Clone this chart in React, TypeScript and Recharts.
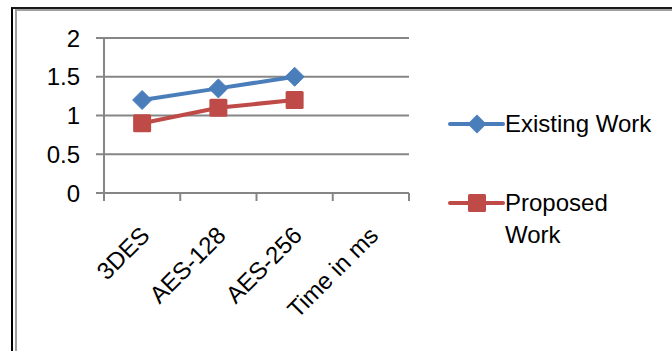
import { CartesianGrid, Legend, Line, LineChart, XAxis, YAxis } from "recharts";

const categories = ["3DES", "AES-128", "AES-256", "Time in ms"];
const existingWork = [1.2, 1.35, 1.5, null];
const proposedWork = [0.9, 1.1, 1.2, null];
const yTicks = [0, 0.5, 1, 1.5, 2];

const data = categories.map((name, i) => ({
  name,
  existing: existingWork[i],
  proposed: proposedWork[i],
}));

const colors = {
  existing: "#4A7EBB",
  proposed: "#BE4B48",
  axis: "#868686",
  text: "#000000",
};

const fontFamily = "'Liberation Sans', Arial, sans-serif";
const legendWidth = 220;

function DiamondDot(props: any) {
  const { cx, cy, fill, key } = props;
  if (cx == null || cy == null) return <g key={key} />;
  return (
    <polygon
      key={key}
      points={`${cx},${cy - 9.5} ${cx + 9.5},${cy} ${cx},${cy + 9.5} ${cx - 9.5},${cy}`}
      fill={fill}
      stroke={fill}
      strokeWidth={1}
      strokeLinejoin="round"
    />
  );
}

function SquareDot(props: any) {
  const { cx, cy, fill, key } = props;
  if (cx == null || cy == null) return <g key={key} />;
  return <rect key={key} x={cx - 9} y={cy - 9} width={18} height={18} rx={1.5} fill={fill} />;
}

// category label plus the tick marks on the category boundaries
function CategoryTick(props: any) {
  const { x, y, payload, index, width, visibleTicksCount } = props;
  const half = payload?.offset || width / visibleTicksCount / 2;
  const ax = x + 3;
  const ay = y + 38;
  const last = index === visibleTicksCount - 1;
  return (
    <g>
      <line x1={x - half} y1={y} x2={x - half} y2={y + 8} stroke={colors.axis} strokeWidth={2} />
      {last && <line x1={x + half} y1={y} x2={x + half} y2={y + 8} stroke={colors.axis} strokeWidth={2} />}
      <text
        x={ax}
        y={ay}
        dy="0.35em"
        textAnchor="end"
        transform={`rotate(-45 ${ax} ${ay})`}
        fill={colors.text}
        fontSize={24}
        fontFamily={fontFamily}
      >
        {payload.value}
      </text>
    </g>
  );
}

function LegendContent(props: any) {
  const { payload } = props;
  return (
    <div style={{ fontFamily, fontSize: 24, color: colors.text, lineHeight: "32px" }}>
      {(payload || []).map((entry: any, i: number) => (
        <div key={entry.value} style={{ display: "flex", alignItems: "flex-start", marginTop: i === 0 ? 0 : 47 }}>
          <svg width={58} height={32} style={{ flex: "none" }}>
            <line x1={3} y1={16} x2={56} y2={16} stroke={entry.color} strokeWidth={4} strokeLinecap="round" />
            {entry.dataKey === "existing" ? (
              <polygon points="30,6.5 39.5,16 30,25.5 20.5,16" fill={entry.color} />
            ) : (
              <rect x={21} y={7} width={18} height={18} rx={1.5} fill={entry.color} />
            )}
          </svg>
          <span style={{ width: 150, whiteSpace: "normal" }}>{entry.value}</span>
        </div>
      ))}
    </div>
  );
}

export default function App() {
  return (
    <div style={{ position: "absolute", left: 0, top: 0, width: 672, height: 351, background: "#fff", overflow: "hidden" }}>
      <div style={{ position: "absolute", left: 11, top: 7, right: 0, bottom: 0, borderLeft: "2px solid #000", borderTop: "2px solid #1a1a1a" }} />
      <div style={{ position: "absolute", left: 15, top: 9, right: 0, bottom: 0, borderLeft: "2px solid #a0a0a0", borderTop: "2px solid #a0a0a0" }} />
      <div style={{ position: "absolute", left: 0, top: 0 }}>
        <LineChart
          width={672}
          height={351}
          data={data}
          margin={{ top: 38, right: 263 - legendWidth, bottom: 98, left: 44 }}
        >
          <CartesianGrid horizontal vertical={false} stroke={colors.axis} strokeWidth={2} />
          <XAxis
            dataKey="name"
            scale="band"
            interval={0}
            tickLine={false}
            tickSize={0}
            tickMargin={0}
            axisLine={{ stroke: colors.axis, strokeWidth: 2 }}
            tick={<CategoryTick />}
            height={60}
          />
          <YAxis
            domain={[0, 2]}
            ticks={yTicks}
            width={60}
            tickSize={8}
            tickMargin={16}
            tickLine={{ stroke: colors.axis, strokeWidth: 2 }}
            axisLine={{ stroke: colors.axis, strokeWidth: 2 }}
            tick={{ fill: colors.text, fontSize: 24, fontFamily }}
          />
          <Legend
            layout="vertical"
            align="right"
            verticalAlign="top"
            content={<LegendContent />}
            wrapperStyle={{ left: 447, top: 108, width: legendWidth }}
          />
          <Line
            dataKey="existing"
            name="Existing Work"
            stroke={colors.existing}
            fill={colors.existing}
            strokeWidth={4}
            strokeLinecap="round"
            dot={(p: any) => <DiamondDot {...p} fill={colors.existing} />}
            isAnimationActive={false}
          />
          <Line
            dataKey="proposed"
            name="Proposed Work"
            stroke={colors.proposed}
            fill={colors.proposed}
            strokeWidth={4}
            strokeLinecap="round"
            dot={(p: any) => <SquareDot {...p} fill={colors.proposed} />}
            isAnimationActive={false}
          />
        </LineChart>
      </div>
    </div>
  );
}
